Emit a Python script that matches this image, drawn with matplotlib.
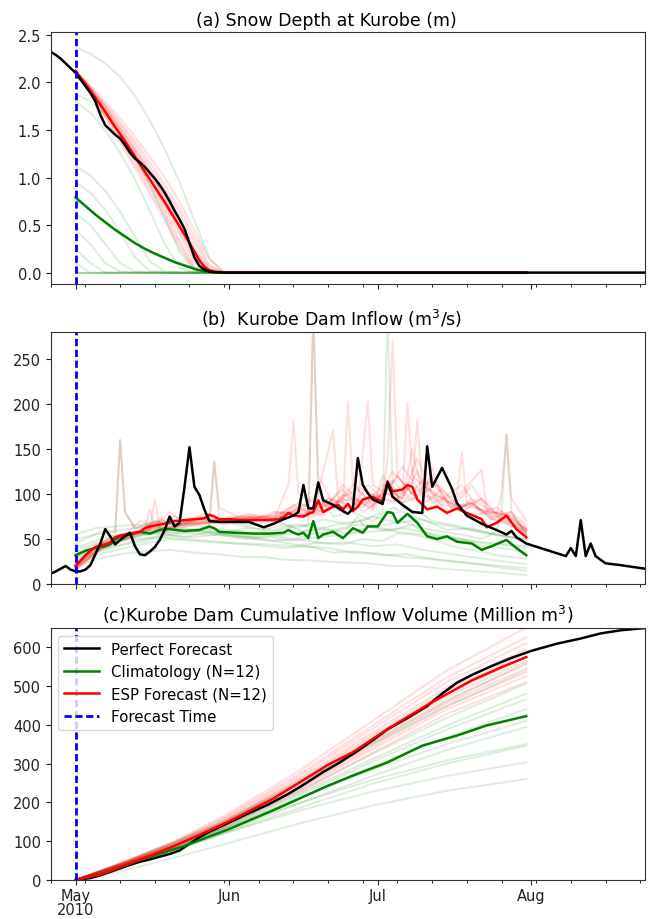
import numpy as np
import matplotlib
matplotlib.use('Agg')
import matplotlib.pyplot as plt
import matplotlib.dates as mdates

# forecast issued 2010-05-01, all days below are counted from that date
t0 = np.datetime64('2010-05-01')

# ---------------- (a) snow depth (m) ----------------
snow_obs_day = list(range(-5, 31)) + [115]
snow_obs = [2.32, 2.29, 2.25, 2.20, 2.15, 2.10, 2.03, 1.96, 1.89, 1.80, 1.66, 1.55,
            1.50, 1.45, 1.41, 1.34, 1.26, 1.20, 1.16, 1.11, 1.05, 0.99, 0.92, 0.84,
            0.75, 0.65, 0.56, 0.46, 0.31, 0.16, 0.07, 0.03, 0.012, 0.005, 0.002, 0.0,
            0.0]

snow_mean_day = [0, 2, 4, 6, 8, 10, 12, 14, 16, 18, 20, 22, 24, 25, 26, 27, 28, 30, 91]
snow_esp_mean = [2.12, 1.98, 1.84, 1.69, 1.53, 1.38, 1.22, 1.06, 0.90, 0.74, 0.57,
                 0.40, 0.22, 0.13, 0.06, 0.025, 0.01, 0.0, 0.0]
snow_clim_mean = [0.79, 0.70, 0.61, 0.53, 0.45, 0.38, 0.31, 0.25, 0.20, 0.155, 0.11,
                  0.075, 0.04, 0.025, 0.015, 0.008, 0.004, 0.0, 0.0]

snow_member_day = [0, 3, 6, 9, 12, 15, 18, 21, 24, 27, 30, 91]
snow_clim = [
    [2.37, 2.30, 2.20, 2.06, 1.86, 1.60, 1.30, 0.95, 0.55, 0.15, 0.0, 0.0],
    [1.88, 1.80, 1.66, 1.47, 1.22, 0.92, 0.58, 0.22, 0.02, 0.0, 0.0, 0.0],
    [1.80, 1.68, 1.50, 1.26, 0.98, 0.65, 0.30, 0.05, 0.0, 0.0, 0.0, 0.0],
    [1.12, 1.02, 0.86, 0.64, 0.38, 0.12, 0.01, 0.0, 0.0, 0.0, 0.0, 0.0],
    [0.95, 0.84, 0.66, 0.42, 0.16, 0.02, 0.0, 0.0, 0.0, 0.0, 0.0, 0.0],
    [0.62, 0.50, 0.30, 0.10, 0.01, 0.0, 0.0, 0.0, 0.0, 0.0, 0.0, 0.0],
    [0.45, 0.30, 0.10, 0.01, 0.0, 0.0, 0.0, 0.0, 0.0, 0.0, 0.0, 0.0],
    [0.25, 0.10, 0.0, 0.0, 0.0, 0.0, 0.0, 0.0, 0.0, 0.0, 0.0, 0.0],
    [0.10, 0.0, 0.0, 0.0, 0.0, 0.0, 0.0, 0.0, 0.0, 0.0, 0.0, 0.0],
    [0.0, 0.0, 0.0, 0.0, 0.0, 0.0, 0.0, 0.0, 0.0, 0.0, 0.0, 0.0],
    [0.0, 0.0, 0.0, 0.0, 0.0, 0.0, 0.0, 0.0, 0.0, 0.0, 0.0, 0.0],
    [0.0, 0.0, 0.0, 0.0, 0.0, 0.0, 0.0, 0.0, 0.0, 0.0, 0.0, 0.0],
]
snow_esp = [
    [2.12, 1.93, 1.72, 1.50, 1.27, 1.03, 0.78, 0.50, 0.20, 0.02, 0.0, 0.0],
    [2.12, 1.90, 1.67, 1.43, 1.18, 0.92, 0.64, 0.34, 0.06, 0.0, 0.0, 0.0],
    [2.12, 1.95, 1.77, 1.58, 1.38, 1.16, 0.93, 0.67, 0.38, 0.08, 0.0, 0.0],
    [2.12, 1.88, 1.63, 1.37, 1.10, 0.83, 0.55, 0.26, 0.03, 0.0, 0.0, 0.0],
    [2.12, 1.96, 1.80, 1.62, 1.43, 1.22, 1.00, 0.74, 0.45, 0.14, 0.01, 0.0],
    [2.12, 1.92, 1.70, 1.47, 1.23, 0.98, 0.72, 0.44, 0.15, 0.01, 0.0, 0.0],
    [2.12, 1.94, 1.74, 1.53, 1.31, 1.08, 0.83, 0.56, 0.27, 0.04, 0.0, 0.0],
    [2.12, 1.91, 1.69, 1.45, 1.20, 0.95, 0.68, 0.40, 0.11, 0.0, 0.0, 0.0],
    [2.12, 1.93, 1.73, 1.52, 1.30, 1.06, 0.80, 0.52, 0.23, 0.03, 0.0, 0.0],
    [2.12, 1.89, 1.65, 1.40, 1.14, 0.87, 0.60, 0.30, 0.04, 0.0, 0.0, 0.0],
    [2.12, 1.95, 1.76, 1.56, 1.35, 1.12, 0.88, 0.62, 0.33, 0.06, 0.0, 0.0],
    [2.12, 1.92, 1.71, 1.49, 1.26, 1.02, 0.76, 0.48, 0.18, 0.02, 0.0, 0.0],
]

# ---------------- (b) dam inflow (m3/s) ----------------
flow_obs_day = [-5, -4, -2, -1, 0, 1, 2, 3, 4, 5, 6, 7, 8, 9, 10, 11, 12, 13, 14, 15,
                16, 17, 18, 19, 20, 21, 22, 23, 24, 25, 26, 27, 29, 31, 35, 38, 40, 42,
                44, 45, 46, 47, 48, 49, 50, 52, 54, 55, 56, 57, 58, 59, 60, 62, 63, 64,
                66, 68, 70, 71, 72, 74, 76, 77, 79, 82, 85, 87, 88, 89, 91, 95, 99, 100,
                101, 102, 103, 104, 105, 107, 110, 115]
flow_obs = [11.5, 14, 20, 16, 14, 14, 16, 21, 33, 45, 61, 53, 44, 49, 53, 57, 42, 33,
            32, 36, 41, 49, 60, 75, 64, 68, 108, 152, 108, 99, 83, 70, 69, 69, 69, 63,
            67, 72, 76, 80, 110, 84, 84, 113, 93, 88, 81, 78, 84, 140, 110, 101, 94, 89,
            113, 97, 88, 80, 79, 153, 108, 129, 106, 90, 76, 67, 60, 55, 59, 52, 45, 38,
            31, 40, 31, 71, 31, 45, 31, 23, 21, 17]

flow_esp_mean_day = [0, 1, 2, 3, 4, 5, 6, 7, 8, 9, 10, 11, 12, 13, 14, 15, 16, 17, 18, 19,
                     20, 22, 24, 26, 27, 28, 29, 31, 34, 38, 41, 42, 43, 44, 46, 47, 48,
                     49, 50, 52, 53, 54, 55, 56, 57, 58, 60, 61, 62, 63, 64, 66, 67, 68,
                     69, 71, 73, 75, 77, 79, 82, 83, 85, 87, 89, 91]
flow_esp_mean = [20, 26, 32, 37, 41, 43, 44, 46, 52, 54, 55, 56, 57, 58, 62, 64, 65, 66,
                 67, 69, 70, 71, 72, 73, 77, 75, 72, 72, 71, 71, 72, 74, 79, 76, 75, 78,
                 80, 93, 80, 86, 88, 83, 89, 81, 86, 94, 97, 94, 92, 114, 103, 105, 110,
                 108, 94, 83, 86, 79, 84, 79, 72, 63, 68, 76, 61, 52]

flow_clim_mean_day = [0, 2, 4, 6, 7, 8, 9, 11, 13, 15, 17, 19, 22, 25, 27, 28, 29, 32, 36,
                      39, 42, 43, 44, 45, 46, 47, 48, 49, 50, 52, 54, 56, 58, 59, 61, 63,
                      64, 65, 67, 69, 71, 73, 75, 77, 80, 82, 84, 87, 89, 91]
flow_clim_mean = [32, 37, 40, 42, 44, 50, 53, 55, 58, 56, 60, 61, 59, 60, 64, 62, 58, 57,
                  56, 56, 57, 60, 57, 55, 57, 51, 70, 51, 55, 58, 51, 62, 57, 64, 64, 80,
                  79, 68, 78, 68, 53, 50, 53, 47, 45, 38, 42, 49, 40, 32]

flow_clim_day = [
    [0, 4, 8, 9, 10, 12, 16, 20, 25, 30, 35, 40, 45, 50, 55, 60, 65, 70, 75, 80, 85, 91],
    [0, 5, 10, 15, 20, 24, 27, 28, 29, 33, 38, 42, 46, 50, 55, 60, 65, 70, 75, 80, 85, 91],
    [0, 5, 10, 15, 20, 25, 30, 35, 40, 44, 47, 48, 49, 52, 56, 60, 64, 68, 72, 75, 80, 85, 91],
    [0, 5, 9, 12, 16, 20, 25, 30, 35, 40, 45, 50, 54, 58, 62, 63, 64, 66, 70, 72, 76, 80, 85, 91],
    [0, 6, 10, 14, 18, 22, 27, 32, 37, 42, 47, 52, 57, 62, 66, 70, 74, 78, 82, 85, 86, 87, 88, 91],
    [0, 6, 10, 14, 19, 24, 29, 34, 39, 44, 49, 54, 59, 64, 68, 70, 75, 79, 82, 86, 91],
    [0, 7, 11, 14, 19, 24, 29, 34, 39, 44, 48, 52, 55, 57, 58, 62, 66, 70, 74, 78, 82, 86, 91],
    [0, 6, 10, 14, 19, 24, 29, 34, 39, 44, 49, 54, 58, 62, 65, 68, 72, 76, 80, 85, 91],
    [0, 5, 9, 12, 16, 20, 25, 30, 35, 40, 45, 50, 55, 60, 65, 70, 75, 80, 85, 91],
    [0, 6, 12, 17, 22, 27, 32, 37, 42, 47, 52, 57, 62, 67, 72, 77, 82, 86, 91],
    [0, 6, 10, 14, 19, 24, 29, 34, 38, 42, 48, 54, 59, 64, 69, 74, 79, 84, 91],
    [0, 4, 10, 14, 18, 22, 26, 31, 36, 41, 46, 51, 56, 61, 66, 71, 76, 81, 86, 91],
]
flow_clim = [
    [50, 55, 58, 160, 80, 62, 70, 65, 68, 72, 65, 70, 62, 72, 66, 75, 68, 72, 60, 62, 55, 50],
    [40, 50, 55, 62, 60, 66, 62, 136, 75, 65, 60, 66, 58, 62, 56, 64, 58, 55, 52, 48, 45, 42],
    [30, 42, 50, 56, 55, 60, 58, 62, 60, 66, 65, 300, 100, 75, 80, 70, 85, 75, 68, 65, 60, 55, 48],
    [35, 45, 50, 52, 58, 57, 62, 60, 58, 58, 65, 62, 68, 70, 80, 300, 110, 85, 78, 70, 66, 60, 54, 50],
    [28, 40, 45, 50, 55, 52, 58, 55, 52, 55, 60, 60, 66, 65, 70, 62, 58, 55, 50, 58, 80, 166, 80, 55],
    [25, 38, 44, 48, 54, 52, 55, 50, 52, 48, 52, 55, 58, 60, 66, 58, 50, 48, 42, 40, 35],
    [38, 50, 56, 55, 58, 56, 54, 52, 55, 50, 56, 58, 62, 75, 65, 60, 62, 58, 55, 50, 45, 44, 40],
    [22, 35, 40, 45, 50, 48, 46, 45, 44, 42, 46, 44, 50, 48, 56, 55, 50, 42, 38, 32, 28],
    [45, 58, 60, 62, 64, 60, 58, 55, 52, 48, 50, 45, 46, 42, 44, 38, 34, 30, 26, 22],
    [30, 45, 50, 52, 50, 48, 45, 43, 40, 42, 35, 36, 32, 33, 28, 25, 22, 18, 15],
    [20, 30, 34, 36, 38, 35, 33, 30, 30, 27, 26, 24, 23, 20, 20, 17, 15, 13, 10],
    [55, 62, 65, 66, 62, 62, 58, 55, 50, 47, 42, 40, 35, 34, 30, 28, 25, 22, 20, 18],
]

flow_esp_day = [
    [0, 3, 6, 8, 9, 10, 12, 16, 20, 22, 26, 30, 34, 38, 42, 46, 50, 54, 58, 60, 62, 66, 70, 74, 78, 80, 84, 88, 91],
    [0, 4, 8, 12, 15, 19, 22, 25, 27, 28, 29, 33, 36, 40, 44, 48, 52, 56, 60, 63, 66, 68, 70, 73, 76, 80, 84, 88, 91],
    [0, 4, 8, 14, 17, 20, 25, 30, 35, 40, 44, 47, 48, 49, 52, 56, 60, 64, 70, 72, 74, 80, 85, 91],
    [0, 4, 10, 13, 18, 23, 28, 33, 38, 43, 48, 52, 56, 59, 62, 63, 64, 65, 68, 72, 76, 80, 84, 88, 91],
    [0, 5, 10, 14, 20, 25, 30, 35, 40, 45, 50, 55, 60, 65, 70, 74, 78, 82, 85, 86, 87, 88, 91],
    [0, 4, 10, 15, 16, 17, 24, 28, 32, 36, 40, 43, 44, 45, 50, 54, 58, 62, 66, 70, 75, 80, 85, 91],
    [0, 5, 12, 16, 20, 25, 30, 35, 40, 44, 48, 51, 54, 55, 56, 60, 62, 66, 70, 73, 78, 82, 86, 91],
    [0, 5, 12, 18, 20, 25, 30, 35, 40, 45, 50, 54, 57, 59, 60, 63, 66, 69, 72, 77, 78, 79, 83, 86, 91],
    [0, 6, 10, 14, 18, 22, 26, 30, 35, 40, 45, 50, 54, 58, 62, 66, 67, 68, 71, 74, 78, 82, 86, 91],
    [0, 6, 10, 14, 15, 16, 21, 26, 31, 36, 41, 46, 51, 56, 60, 64, 68, 69, 70, 73, 76, 82, 83, 86, 91],
    [0, 5, 9, 12, 16, 20, 25, 30, 35, 40, 44, 48, 52, 53, 57, 60, 64, 68, 72, 76, 80, 84, 88, 91],
    [0, 5, 11, 15, 18, 22, 26, 30, 34, 38, 42, 46, 50, 54, 58, 62, 66, 69, 72, 76, 80, 84, 88, 91],
]
flow_esp = [
    [18, 35, 48, 55, 160, 80, 62, 68, 75, 70, 78, 72, 76, 74, 80, 78, 88, 80, 95, 85, 120, 90, 100, 92, 85, 95, 80, 76, 60],
    [20, 40, 50, 58, 60, 80, 68, 70, 72, 136, 85, 74, 72, 80, 78, 95, 85, 110, 90, 105, 95, 150, 100, 90, 85, 110, 75, 80, 65],
    [15, 35, 48, 58, 72, 65, 68, 68, 72, 70, 82, 75, 300, 120, 90, 95, 85, 125, 88, 130, 95, 75, 85, 60],
    [22, 42, 55, 70, 62, 66, 68, 75, 72, 78, 75, 95, 85, 110, 95, 140, 270, 120, 100, 115, 85, 90, 72, 68, 55],
    [18, 40, 52, 60, 62, 75, 66, 72, 70, 85, 78, 100, 82, 120, 88, 105, 80, 95, 78, 100, 166, 95, 70],
    [20, 38, 50, 60, 94, 62, 65, 72, 68, 76, 72, 110, 181, 100, 85, 105, 80, 95, 90, 115, 80, 90, 70, 60],
    [16, 38, 55, 70, 66, 72, 70, 78, 72, 88, 78, 95, 90, 203, 110, 100, 95, 130, 100, 110, 85, 95, 70, 58],
    [22, 42, 56, 62, 64, 70, 68, 75, 70, 82, 76, 100, 90, 203, 110, 100, 95, 125, 90, 100, 145, 90, 80, 72, 62],
    [18, 45, 55, 58, 70, 66, 75, 68, 74, 74, 90, 80, 110, 88, 100, 100, 201, 120, 105, 95, 110, 78, 80, 60],
    [20, 44, 55, 60, 83, 62, 70, 68, 74, 70, 80, 74, 95, 82, 100, 90, 110, 182, 110, 100, 90, 127, 85, 75, 58],
    [24, 45, 55, 58, 68, 66, 72, 70, 74, 70, 85, 78, 171, 95, 105, 88, 115, 92, 120, 82, 90, 72, 80, 55],
    [17, 38, 52, 58, 62, 68, 66, 72, 70, 76, 74, 88, 80, 95, 85, 110, 95, 140, 100, 90, 85, 80, 75, 62],
]

# ---------------- (c) cumulative inflow volume (million m3) ----------------
vol_obs_day = [0, 3, 5, 7, 9, 11, 13, 15, 17, 19, 21, 23, 25, 27, 31, 35, 39, 43, 46,
               50, 53, 57, 60, 63, 67, 71, 74, 77, 80, 84, 88, 92, 97, 102, 106, 110, 115]
vol_obs = [0, 5, 12, 21, 30, 39, 47, 53, 60, 67, 76, 93, 110, 124, 148, 172, 195, 222,
           245, 278, 300, 333, 360, 388, 417, 448, 480, 508, 528, 551, 572, 590, 608, 622,
           635, 643, 649]

vol_esp_mean_day = [0, 5, 10, 15, 20, 25, 31, 40, 51, 56, 63, 72, 80, 86, 91]
vol_esp_mean = [0, 14, 38, 62, 88, 116, 151, 210, 297, 329, 389, 458, 514, 548, 574]
vol_clim_mean_day = [0, 5, 12, 22, 31, 40, 51, 56, 63, 70, 77, 83, 91]
vol_clim_mean = [0, 15, 47, 88, 131, 180, 243, 269, 303, 346, 372, 398, 422]

vol_member_day = [0, 10, 20, 30, 45, 60, 75, 91]
vol_esp = [
    [0, 48, 100, 165, 280, 410, 540, 650],
    [0, 47, 98, 160, 272, 398, 522, 625],
    [0, 46, 96, 157, 266, 390, 510, 610],
    [0, 45, 94, 153, 260, 380, 496, 595],
    [0, 45, 93, 151, 256, 373, 488, 585],
    [0, 44, 92, 149, 252, 367, 480, 575],
    [0, 44, 91, 147, 248, 361, 472, 565],
    [0, 43, 90, 145, 244, 355, 464, 555],
    [0, 43, 89, 143, 240, 349, 456, 545],
    [0, 42, 88, 141, 236, 343, 448, 535],
    [0, 42, 87, 139, 232, 337, 440, 525],
    [0, 41, 85, 136, 226, 328, 428, 510],
]
vol_clim = [
    [0, 45, 95, 150, 250, 355, 460, 560],
    [0, 48, 98, 152, 248, 350, 448, 540],
    [0, 42, 88, 138, 228, 325, 418, 506],
    [0, 40, 85, 135, 222, 312, 398, 480],
    [0, 38, 82, 132, 218, 305, 388, 466],
    [0, 36, 80, 128, 210, 292, 368, 440],
    [0, 40, 85, 132, 210, 285, 350, 410],
    [0, 34, 76, 122, 196, 268, 335, 394],
    [0, 42, 88, 132, 198, 258, 308, 350],
    [0, 35, 78, 120, 185, 248, 300, 346],
    [0, 38, 80, 120, 178, 228, 268, 303],
    [0, 25, 58, 92, 145, 192, 230, 260],
]

titles = ['(a) Snow Depth at Kurobe (m)',
          '(b)  Kurobe Dam Inflow (m$^3$/s)',
          '(c)Kurobe Dam Cumulative Inflow Volume (Million m$^3$)']
title_x = [0.463, 0.473, 0.482]
tick_dates = ['2010-05-01', '2010-06-01', '2010-07-01', '2010-08-01']
tick_labels = ['May\n2010', 'Jun', 'Jul', 'Aug']


def dd(days):
    return t0 + np.array(days, dtype='timedelta64[D]')


fig = plt.figure(figsize=(6.51, 9.2), dpi=100)
left, width, height = 0.078, 0.913, 0.2739
bottoms = [0.6902, 0.3641, 0.0424]
axes = [fig.add_axes([left, b, width, height]) for b in bottoms]
ax1, ax2, ax3 = axes

lw = 1.5      # member lines
mlw = 1.8     # mean / observed lines
fa = 0.13     # alpha of members

# (a)
for m in snow_clim:
    ax1.plot(dd(snow_member_day), m, color='green', alpha=fa, lw=lw)
for m in snow_esp:
    ax1.plot(dd(snow_member_day), m, color='red', alpha=fa, lw=lw)
ax1.plot(dd(snow_mean_day), snow_clim_mean, color='green', lw=mlw)
ax1.plot(dd(snow_mean_day), snow_esp_mean, color='red', lw=mlw)
ax1.plot(dd(snow_obs_day), snow_obs, color='black', lw=mlw)
ax1.set_ylim(-0.12, 2.53)
ax1.set_yticks([0, 0.5, 1.0, 1.5, 2.0, 2.5])

# (b)
for d, m in zip(flow_clim_day, flow_clim):
    ax2.plot(dd(d), m, color='green', alpha=fa, lw=lw)
for d, m in zip(flow_esp_day, flow_esp):
    ax2.plot(dd(d), m, color='red', alpha=fa, lw=lw)
ax2.plot(dd(flow_clim_mean_day), flow_clim_mean, color='green', lw=mlw)
ax2.plot(dd(flow_esp_mean_day), flow_esp_mean, color='red', lw=mlw)
ax2.plot(dd(flow_obs_day), flow_obs, color='black', lw=mlw)
ax2.set_ylim(0, 280)
ax2.set_yticks([0, 50, 100, 150, 200, 250])

# (c)
for m in vol_clim:
    ax3.plot(dd(vol_member_day), m, color='green', alpha=fa, lw=lw)
for m in vol_esp:
    ax3.plot(dd(vol_member_day), m, color='red', alpha=fa, lw=lw)
ax3.plot(dd(vol_obs_day), vol_obs, color='black', lw=mlw, label='Perfect Forecast')
ax3.plot(dd(vol_clim_mean_day), vol_clim_mean, color='green', lw=mlw,
         label='Climatology (N=12)')
ax3.plot(dd(vol_esp_mean_day), vol_esp_mean, color='red', lw=mlw,
         label='ESP Forecast (N=12)')
ax3.set_ylim(0, 649)
ax3.set_yticks([0, 100, 200, 300, 400, 500, 600])

for i, ax in enumerate(axes):
    ax.axvline(t0, color='blue', ls='--', dashes=(2.6, 1.3), lw=2,
               label='Forecast Time')
    ax.set_xlim(dd([-5])[0], dd([115])[0])
    ax.set_xticks(np.array(tick_dates, dtype='datetime64[D]'))
    ax.xaxis.set_minor_locator(mdates.WeekdayLocator(byweekday=mdates.MO))
    ax.tick_params(labelsize=10.5, colors='#222222')
    ax.tick_params(axis='x', pad=2)
    for s in ax.spines.values():
        s.set_color('#333333')
    ax.set_title(titles[i], fontsize=12.5, x=title_x[i], pad=5)
    if i < 2:
        ax.set_xticklabels([])
    else:
        ax.set_xticklabels(tick_labels, linespacing=0.95)

ax3.legend(loc='upper left', fontsize=10.8, handlelength=2.3)

fig.savefig('out.png', dpi=100)
